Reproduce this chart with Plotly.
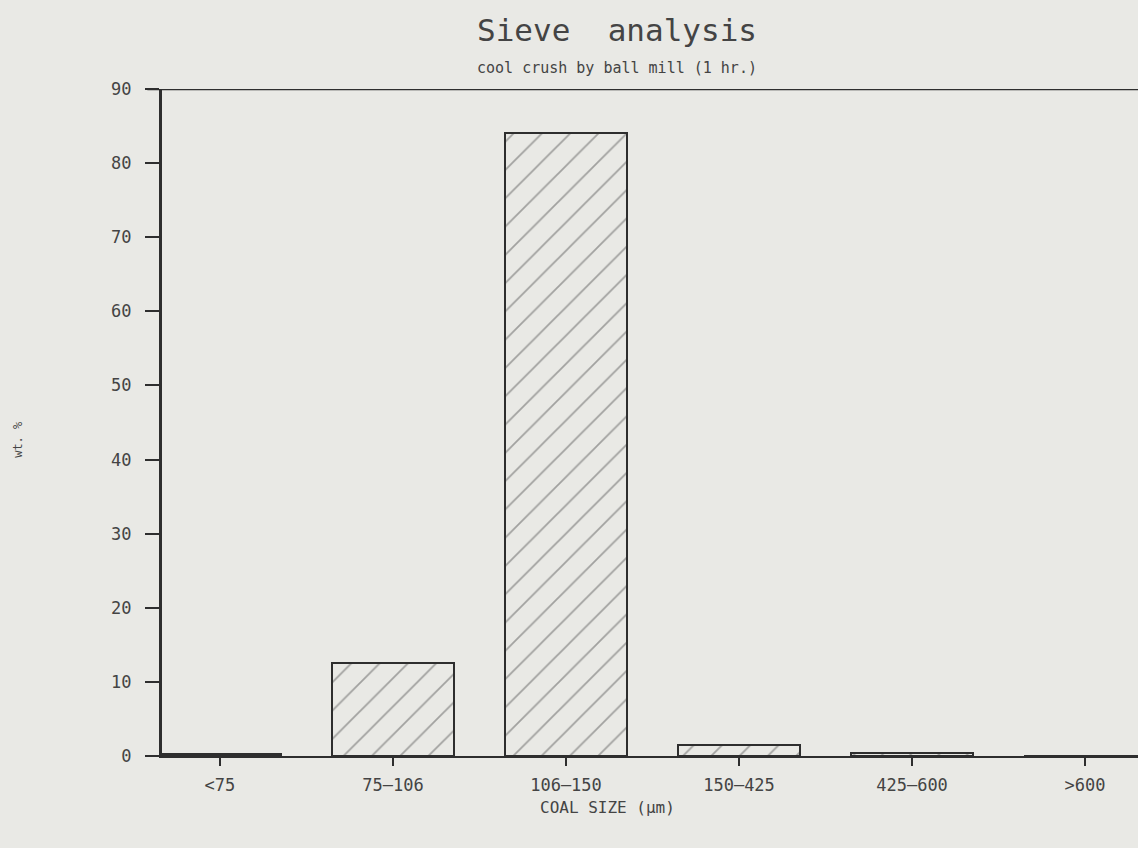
import plotly.graph_objects as go

# Sieve fractions and retained weight percentages
size_classes = ["<75", "75\u2014106", "106\u2014150", "150\u2014425", "425\u2014600", ">600"]
wt_percent = [0.3, 12.6, 84.1, 1.5, 0.4, 0.0]
y_ticks = [0, 10, 20, 30, 40, 50, 60, 70, 80, 90]

ink = "#2e2e2e"
text_ink = "#444444"
paper = "#e9e9e5"
font_family = "DejaVu Sans Mono, Liberation Mono, monospace"

fig = go.Figure()
fig.add_trace(go.Bar(
    x=list(range(len(size_classes))),
    y=wt_percent,
    width=0.705,
    marker=dict(
        color="rgba(0,0,0,0)",
        line=dict(color=ink, width=2),
        pattern=dict(shape="/", size=20, solidity=0.09, fgcolor="#5a5a5a",
                     bgcolor="rgba(0,0,0,0)", fillmode="overlay"),
    ),
    showlegend=False,
))

# closing line along the top of the plotting frame
fig.add_shape(type="line", xref="paper", yref="y", x0=-0.015, x1=1, y0=90, y1=90,
              line=dict(color=ink, width=2.5))

fig.update_layout(
    width=1138, height=848,
    margin=dict(l=162, r=0, t=89, b=92),
    paper_bgcolor=paper, plot_bgcolor=paper,
    font=dict(family=font_family, color=text_ink),
    bargap=0,
    annotations=[
        dict(text="Sieve  analysis", xref="paper", yref="paper", x=0.466, y=1, yshift=59,
             showarrow=False, xanchor="center", yanchor="middle",
             font=dict(size=31, color=text_ink, family=font_family)),
        dict(text="cool crush by ball mill (1 hr.)", xref="paper", yref="paper", x=0.466, y=1,
             yshift=21, showarrow=False, xanchor="center", yanchor="middle",
             font=dict(size=15, color=text_ink, family=font_family)),
        dict(text="wt. %", xref="paper", yref="paper", x=0, xshift=-144, y=0.474,
             showarrow=False, textangle=-90, xanchor="center", yanchor="middle",
             font=dict(size=12, color=text_ink, family=font_family)),
        dict(text="COAL SIZE (\u03bcm)", xref="paper", yref="paper", x=0.456, y=0,
             yshift=-51, showarrow=False, xanchor="center", yanchor="middle",
             font=dict(size=16, color=text_ink, family=font_family)),
    ],
)

fig.update_xaxes(
    range=[-0.335, 5.306],
    tickmode="array", tickvals=list(range(len(size_classes))), ticktext=size_classes,
    ticks="outside", ticklen=8, tickwidth=1.5, tickcolor=ink,
    showline=True, linecolor=ink, linewidth=2,
    showgrid=False, zeroline=False,
    tickfont=dict(size=17, color=text_ink),
    ticklabelstandoff=5,
)
fig.update_yaxes(
    range=[0, 90],
    tickmode="array", tickvals=y_ticks,
    ticks="outside", ticklen=14, tickwidth=2, tickcolor=ink,
    showline=True, linecolor=ink, linewidth=3,
    showgrid=False, zeroline=False,
    tickfont=dict(size=17, color=text_ink),
    ticklabelstandoff=10,
)

fig.write_html("out.html")
